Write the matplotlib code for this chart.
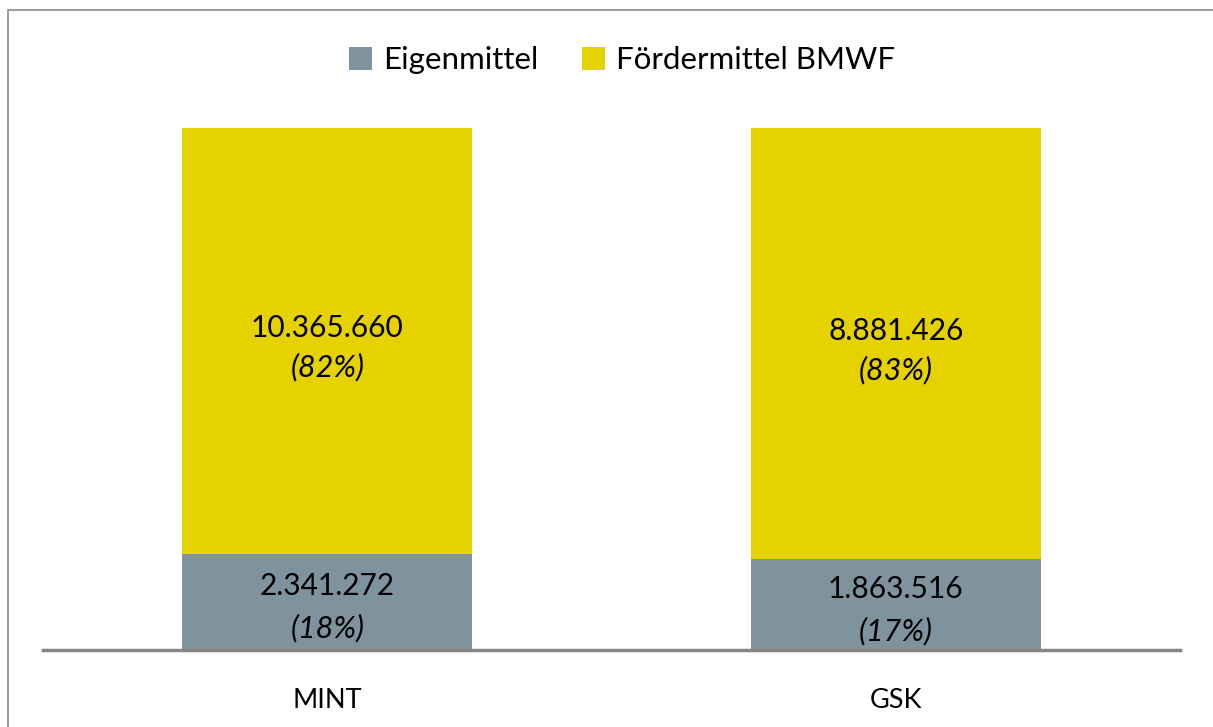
import matplotlib.pyplot as plt
from matplotlib.patches import Rectangle
import numpy as np

plt.rcParams['font.family'] = ['Lato', 'DejaVu Sans']

categories = ['MINT', 'GSK']
eigenmittel = [2341272, 1863516]
foerdermittel = [10365660, 8881426]
series_names = ['Eigenmittel', 'Fördermittel BMWF']
colors = ['#7F939E', '#E6D200']


def fmt(v):
    return f'{v:,}'.replace(',', '.')


eig = np.array(eigenmittel, dtype=float)
foe = np.array(foerdermittel, dtype=float)
total = eig + foe
eig_share = eig / total
foe_share = foe / total

W, H = 1213, 727
fig = plt.figure(figsize=(W / 100, H / 100), dpi=100)
ax = fig.add_axes([43 / W, (H - 650) / H, (1180 - 43) / W, (650 - 128) / H])

x = np.arange(len(categories))
bw = 0.51
ax.bar(x, eig_share, bw, color=colors[0], label=series_names[0])
ax.bar(x, foe_share, bw, bottom=eig_share, color=colors[1], label=series_names[1])

for i in range(len(categories)):
    yc = eig_share[i] / 2
    ax.text(x[i], yc + 0.03, fmt(eigenmittel[i]), ha='center', va='center', fontsize=21.5)
    ax.text(x[i], yc - 0.05, f'({eig_share[i]*100:.0f}%)', ha='center', va='center',
            fontsize=22, style='italic')
    yc = eig_share[i] + foe_share[i] / 2
    ax.text(x[i], yc + 0.025, fmt(foerdermittel[i]), ha='center', va='center', fontsize=21.5)
    ax.text(x[i], yc - 0.05, f'({foe_share[i]*100:.0f}%)', ha='center', va='center',
            fontsize=22, style='italic')

ax.set_xlim(-0.5, 1.5)
ax.set_ylim(0, 1)
ax.set_xticks(x)
ax.set_xticklabels(categories, fontsize=19.5)
ax.tick_params(axis='x', length=0, pad=27)
ax.set_yticks([])
for s in ['top', 'right', 'left']:
    ax.spines[s].set_visible(False)
ax.spines['bottom'].set_color('#868686')
ax.spines['bottom'].set_linewidth(2.5)

leg = fig.legend(loc='center', bbox_to_anchor=(622 / W, (H - 60) / H), ncol=2, frameon=False,
                 fontsize=22.5, handlelength=0.75, handleheight=0.75, handletextpad=0.35,
                 columnspacing=1.4)

fig.patches.append(Rectangle((8 / W, -0.1), 1.2, (H - 10) / H + 0.1, transform=fig.transFigure,
                             fill=False, edgecolor='#8C8C8C', linewidth=1.2))

fig.savefig('out.png', dpi=100)
